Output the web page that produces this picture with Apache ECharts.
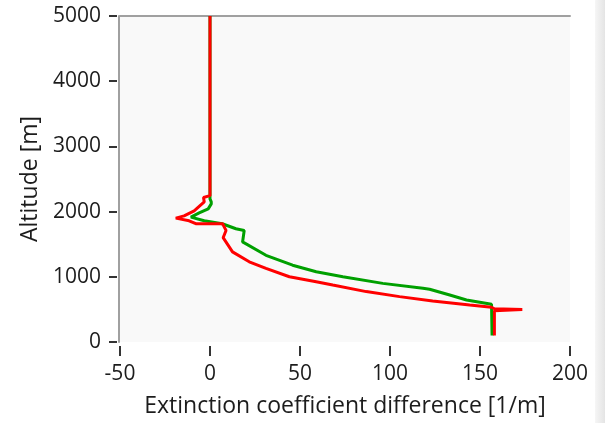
<!DOCTYPE html>
<html><head><meta charset="utf-8">
<script src="https://cdn.jsdelivr.net/npm/echarts@6/dist/echarts.min.js"></script>
<style>html,body{margin:0;padding:0;background:#fff}#c{width:605px;height:423px}</style>
</head><body><div id="c"></div>
<script>
// Altitude [m] and extinction coefficient difference [1/m]
const redAlt = [5000, 2245, 2217, 2149, 2012, 1935, 1900, 1859, 1814, 1814, 1711, 1600, 1382, 1230, 1128, 1001, 925, 873, 773, 696, 629, 568, 533, 510, 500, 490, 480, 100];
const redVal = [0, 0, -3.6, -3.2, -8.8, -14.4, -19, -11.6, -7.9, 7, 8.9, 7.3, 12.5, 21.8, 31.1, 44.1, 59, 68.2, 86.8, 105.3, 123.7, 144.3, 156.4, 158, 173.5, 173.5, 158, 158];
const greenAlt = [5000, 2195, 2149, 2118, 2042, 1981, 1916, 1859, 1814, 1737, 1711, 1535, 1330, 1178, 1077, 1001, 899, 823, 808, 721, 645, 579, 549, 100];
const greenVal = [0, 0, 0.7, 0.7, -1, -6, -10.6, -3.2, 6.8, 14.4, 19, 18.1, 31.1, 45.9, 59, 73.8, 96, 118.3, 122, 133.2, 142.5, 156.4, 156.7, 156.7];
const xTicks = [-50, 0, 50, 100, 150, 200];
const yTicks = [0, 1000, 2000, 3000, 4000, 5000];

const chart = echarts.init(document.getElementById('c'), null, {renderer: 'canvas'});
const font = 'Open Sans';
const txt = '#1c1c1c';
const pair = (v, a) => v.map((x, i) => [x, a[i]]);
const fmt = v => String(v);
chart.setOption({
  animation: false,
  backgroundColor: '#ffffff',
  graphic: [{
    type: 'rect', right: 0, top: 0, shape: {width: 10, height: 423},
    style: {fill: new echarts.graphic.LinearGradient(0, 0, 1, 0, [{offset: 0, color: '#f6f6f6'}, {offset: 1, color: '#e4e4e4'}])}
  }],
  grid: {left: 120, right: 35, top: 16, bottom: 79, show: true, backgroundColor: '#f9f9f9', borderWidth: 0},
  xAxis: [{
    type: 'value', min: xTicks[0], max: xTicks[xTicks.length - 1], interval: 50,
    position: 'bottom', offset: 4,
    axisLine: {show: false, onZero: false},
    axisTick: {show: true, length: 10, lineStyle: {color: '#333', width: 2}},
    axisLabel: {margin: 18, fontFamily: font, fontSize: 21, color: txt, formatter: fmt},
    splitLine: {show: false},
    name: 'Extinction coefficient difference [1/m]', nameLocation: 'middle', nameGap: 49,
    nameTextStyle: {fontFamily: font, fontSize: 23, color: txt}
  }, {
    type: 'value', min: xTicks[0], max: xTicks[xTicks.length - 1], position: 'top',
    axisLine: {show: true, onZero: false, lineStyle: {color: '#a0a0a0', width: 2}},
    axisTick: {show: false}, axisLabel: {show: false}, splitLine: {show: false}
  }],
  yAxis: [{
    type: 'value', min: yTicks[0], max: yTicks[yTicks.length - 1], interval: 1000,
    position: 'left', offset: 3,
    axisLine: {show: false, onZero: false},
    axisTick: {show: true, length: 8, lineStyle: {color: '#333', width: 2}},
    axisLabel: {margin: 16, fontFamily: font, fontSize: 21, color: txt, formatter: fmt},
    splitLine: {show: false},
    name: 'Altitude [m]', nameLocation: 'middle', nameGap: 66,
    nameTextStyle: {fontFamily: font, fontSize: 23, color: txt}
  }, {
    type: 'value', min: yTicks[0], max: yTicks[yTicks.length - 1], position: 'left', offset: 1,
    axisLine: {show: true, onZero: false, lineStyle: {color: '#a0a0a0', width: 2}},
    axisTick: {show: false}, axisLabel: {show: false}, splitLine: {show: false}
  }],
  series: [{
    type: 'line', xAxisIndex: 0, yAxisIndex: 0, data: pair(greenVal, greenAlt),
    showSymbol: false, lineStyle: {color: '#00a000', width: 3}, z: 2
  }, {
    type: 'line', xAxisIndex: 0, yAxisIndex: 0, data: pair(redVal, redAlt),
    showSymbol: false, lineStyle: {color: '#ff0000', width: 3}, z: 3
  }]
});
</script></body></html>
